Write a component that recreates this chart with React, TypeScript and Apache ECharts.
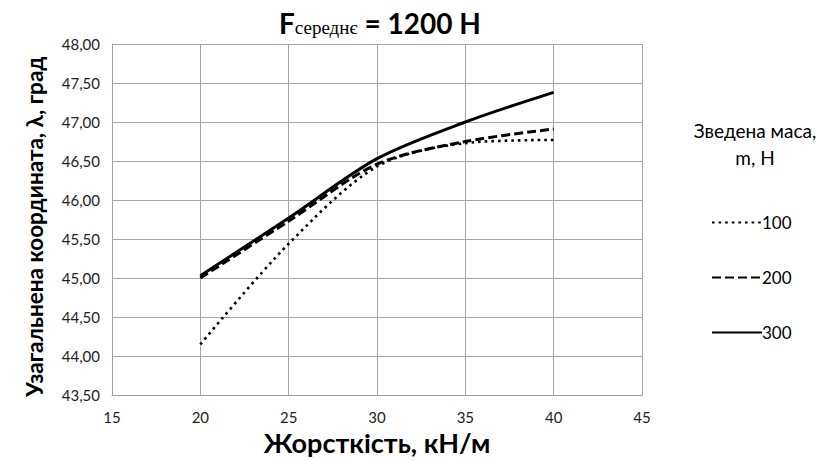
import React, { useEffect, useRef } from "react";
import * as echarts from "echarts";

const xValues = [20, 25, 30, 35, 40];
const series100 = [44.15, 45.44, 46.43, 46.73, 46.77];
const series200 = [45.0, 45.73, 46.46, 46.75, 46.91];
const series300 = [45.03, 45.77, 46.53, 47.0, 47.38];
const seriesNames = ["100", "200", "300"];

export default function App() {
  const ref = useRef<HTMLDivElement>(null);
  useEffect(() => {
    if (!ref.current) return;
    const chart = echarts.init(ref.current, null, { renderer: "svg" });
    const font = "Lato, 'Open Sans', sans-serif";
    const toPairs = (arr: number[]) => xValues.map((x, i) => [x, arr[i]]);
    chart.setOption({
      animation: false,
      backgroundColor: "#ffffff",
      title: [
        {
          text: "{b|F}{s|середнє}{b| = 1200 Н}",
          left: 274,
          top: 4,
          textStyle: {
            rich: {
              b: { fontFamily: font, fontWeight: "bold", fontSize: 28, color: "#000" },
              s: { fontFamily: "'Liberation Serif', serif", fontWeight: "normal", fontSize: 19, color: "#000", verticalAlign: "bottom", padding: [8, 0, 0, 0] },
            },
          },
        },
        {
          text: "Зведена маса,\nm, Н",
          left: 750,
          top: 112,
          textAlign: "center",
          textStyle: { fontFamily: font, fontSize: 19, fontWeight: "normal", color: "#000", lineHeight: 27 },
        },
      ],
      legend: {
        orient: "vertical",
        left: 706,
        top: 209,
        itemWidth: 50,
        itemHeight: 16,
        itemGap: 38,
        data: seriesNames,
        itemStyle: { opacity: 0 },
        textStyle: { fontFamily: font, fontSize: 17, color: "#000", padding: [0, 0, 0, -5] },
      },
      grid: { left: 112, right: 196, top: 44, bottom: 55 },
      xAxis: {
        type: "value",
        min: 15,
        max: 45,
        interval: 5,
        name: "Жорсткість, кН/м",
        nameLocation: "middle",
        nameGap: 33,
        nameTextStyle: { fontFamily: font, fontWeight: "bold", fontSize: 27, color: "#000" },
        axisLine: { show: true, lineStyle: { color: "#a0a0a0", width: 1 } },
        axisTick: { show: false },
        axisLabel: { fontFamily: font, fontSize: 15, color: "#222", margin: 14 },
        splitLine: { show: true, lineStyle: { color: "#a6a6a6", width: 1 } },
      },
      yAxis: {
        type: "value",
        min: 43.5,
        max: 48,
        interval: 0.5,
        name: "Узагальнена координата, λ, град",
        nameLocation: "middle",
        nameGap: 66,
        nameTextStyle: { fontFamily: font, fontWeight: "bold", fontSize: 22.5, color: "#000", padding: [0, 14, 0, 0] },
        axisLine: { show: true, lineStyle: { color: "#a0a0a0", width: 1 } },
        axisTick: { show: false },
        axisLabel: {
          fontFamily: font,
          fontSize: 15,
          color: "#222",
          margin: 12,
          formatter: (v: number) => v.toFixed(2).replace(".", ","),
        },
        splitLine: { show: true, lineStyle: { color: "#a6a6a6", width: 1 } },
      },
      series: [
        {
          name: seriesNames[0],
          type: "line",
          data: toPairs(series100),
          smooth: 0.3,
          symbol: "none",
          color: "#000",
          lineStyle: { color: "#000", width: 2.6, type: [2.6, 4], cap: "butt" },
        },
        {
          name: seriesNames[1],
          type: "line",
          data: toPairs(series200),
          smooth: 0.3,
          symbol: "none",
          color: "#000",
          lineStyle: { color: "#000", width: 3, type: [9, 4] },
        },
        {
          name: seriesNames[2],
          type: "line",
          data: toPairs(series300),
          smooth: 0.3,
          symbol: "none",
          color: "#000",
          lineStyle: { color: "#000", width: 3, type: "solid" },
        },
      ],
    });
    return () => chart.dispose();
  }, []);
  return <div ref={ref} style={{ width: 838, height: 461, position: "absolute", left: 0, top: 0 }} />;
}
